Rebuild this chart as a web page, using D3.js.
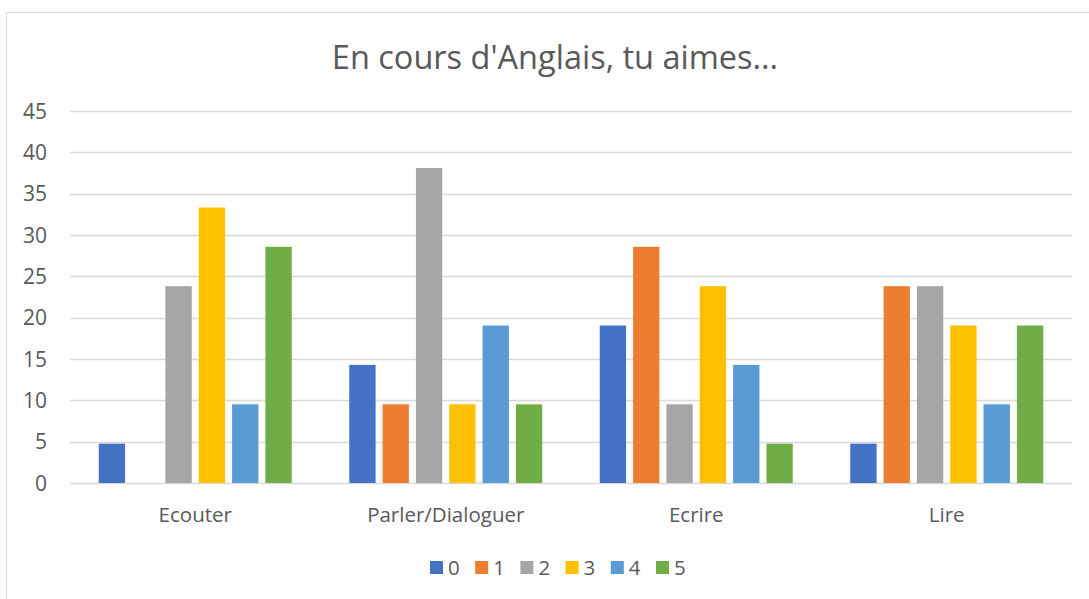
<!DOCTYPE html>
<html>
<head>
<meta charset="utf-8">
<script src="https://cdn.jsdelivr.net/npm/d3@7"></script>
<style>
body { margin: 0; background: #fff; }
text { font-family: "Open Sans", "Noto Sans", sans-serif; fill: #595959; }
</style>
</head>
<body>
<svg id="viz" width="1089" height="599"></svg>
<script>
// data (percent of answers)
var categories = ["Ecouter", "Parler/Dialoguer", "Ecrire", "Lire"];
var keys = ["0", "1", "2", "3", "4", "5"];
var s0 = [4.76, 14.29, 19.05, 4.76];
var s1 = [0, 9.52, 28.57, 23.81];
var s2 = [23.81, 38.1, 9.52, 23.81];
var s3 = [33.33, 9.52, 23.81, 19.05];
var s4 = [9.52, 19.05, 14.29, 9.52];
var s5 = [28.57, 9.52, 4.76, 19.05];
var yTicks = [0, 5, 10, 15, 20, 25, 30, 35, 40, 45];
var colors = ["#4472c4", "#ed7d31", "#a5a5a5", "#ffc000", "#5b9bd5", "#70ad47"];

var series = [s0, s1, s2, s3, s4, s5];
var data = categories.map(function(c, i) {
    var row = { cat: c };
    keys.forEach(function(k, j) { row[k] = series[j][i]; });
    return row;
});

var svg = d3.select("#viz");

// chart frame
svg.append("rect")
    .attr("x", 6.5).attr("y", 12.5)
    .attr("width", 1100).attr("height", 620)
    .attr("fill", "none").attr("stroke", "#d9d9d9");

var plotLeft = 70, plotRight = 1072, plotTop = 111, plotBottom = 483;

var x0 = d3.scaleBand().domain(categories).range([plotLeft, plotRight]);
var x1 = d3.scaleBand().domain(keys)
    .range([28.75, x0.bandwidth() - 28.75])
    .paddingInner(0.21).paddingOuter(0);
var y = d3.scaleLinear().domain([0, 45]).range([plotBottom, plotTop]);

// gridlines
svg.append("g").selectAll("line")
    .data(yTicks)
    .enter().append("line")
    .attr("x1", plotLeft).attr("x2", plotRight)
    .attr("y1", d => Math.round(y(d)) + 0.5)
    .attr("y2", d => Math.round(y(d)) + 0.5)
    .attr("stroke", "#d9d9d9").attr("stroke-width", 1.3);

// y tick labels
svg.append("g").selectAll("text")
    .data(yTicks)
    .enter().append("text")
    .attr("x", 47)
    .attr("y", d => y(d))
    .attr("dy", "0.36em")
    .attr("text-anchor", "end")
    .style("font-size", "21px")
    .text(d => d);

// bars
var groups = svg.append("g").selectAll("g")
    .data(data)
    .enter().append("g")
    .attr("transform", d => "translate(" + x0(d.cat) + ",0)");

groups.selectAll("rect")
    .data(d => keys.map(function(k, j) { return { key: k, value: d[k], i: j }; }))
    .enter().append("rect")
    .attr("x", d => x1(d.key))
    .attr("y", d => y(d.value))
    .attr("width", x1.bandwidth())
    .attr("height", d => y(0) - y(d.value))
    .attr("fill", d => colors[d.i]);

// category labels
svg.append("g").selectAll("text")
    .data(categories)
    .enter().append("text")
    .attr("x", d => x0(d) + x0.bandwidth() / 2)
    .attr("y", 522)
    .attr("text-anchor", "middle")
    .style("font-size", "20.5px")
    .text(d => d);

// title
svg.append("text")
    .attr("x", 555)
    .attr("y", 69)
    .attr("text-anchor", "middle")
    .style("font-size", "32.5px")
    .text("En cours d'Anglais, tu aimes...");

// legend
var legend = svg.append("g").selectAll("g")
    .data(keys)
    .enter().append("g")
    .attr("transform", (d, i) => "translate(" + (430 + i * 45.2) + ",561)");

legend.append("rect")
    .attr("width", 13).attr("height", 13)
    .attr("fill", (d, i) => colors[i]);

legend.append("text")
    .attr("x", 18)
    .attr("y", 7)
    .attr("dy", "0.36em")
    .style("font-size", "20.5px")
    .text(d => d);
</script>
</body>
</html>
